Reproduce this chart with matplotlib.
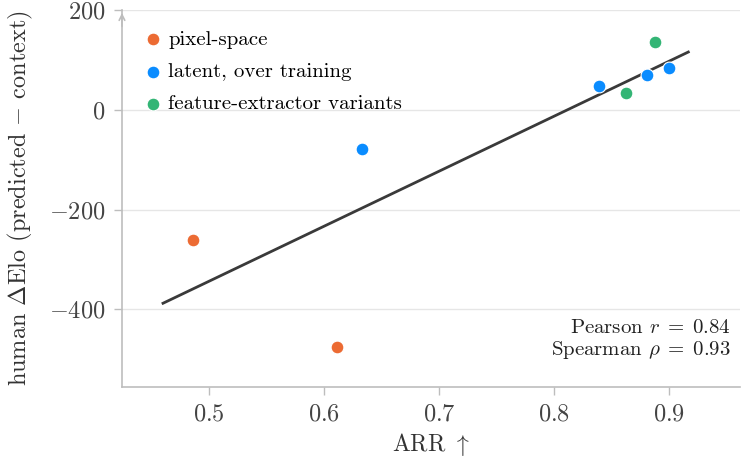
import matplotlib
matplotlib.use("Agg")
import matplotlib.pyplot as plt
import numpy as np

plt.rcParams["font.family"] = ["cmr10", "DejaVu Serif"]
plt.rcParams["mathtext.fontset"] = "cm"
plt.rcParams["axes.formatter.use_mathtext"] = True
plt.rcParams["axes.unicode_minus"] = True

# ── data ──────────────────────────────────────────────
pixel_x = [0.486, 0.611]
pixel_y = [-262, -476]

latent_x = [0.633, 0.839, 0.881, 0.900]
latent_y = [-78, 48, 70, 84]

feat_x = [0.863, 0.888]
feat_y = [34, 136]

fit_x = [0.460, 0.917]
fit_y = [-388, 116]

pearson_r = 0.84
spearman_rho = 0.93

ORANGE = "#ec6b33"
BLUE = "#0a8cff"
GREEN = "#33b575"
SPINE = "#bdbdbd"
TXT = "#333333"

fig = plt.figure(figsize=(7.46, 4.61), dpi=100)
ax = fig.add_axes([0.1635, 0.1605, 0.8285, 0.8175])

ax.plot(fit_x, fit_y, color="#3a3a3a", lw=2.0, zorder=2)
ms = 85
ax.scatter(pixel_x, pixel_y, s=ms, color=ORANGE, edgecolor="white", lw=0.8,
           zorder=3, label="pixel-space")
ax.scatter(latent_x, latent_y, s=ms, color=BLUE, edgecolor="white", lw=0.8,
           zorder=3, label="latent, over training")
ax.scatter(feat_x, feat_y, s=ms, color=GREEN, edgecolor="white", lw=0.8,
           zorder=3, label="feature-extractor variants")

ax.set_xlim(0.4243, 0.962)
ax.set_ylim(-556, 200)
ax.set_xticks([0.5, 0.6, 0.7, 0.8, 0.9])
ax.set_yticks([-400, -200, 0, 200])
ax.grid(axis="y", color="#e6e6e6", lw=1.0, zorder=0)
ax.set_axisbelow(True)

for s in ["top", "right"]:
    ax.spines[s].set_visible(False)
for s in ["left", "bottom"]:
    ax.spines[s].set_color(SPINE)
    ax.spines[s].set_linewidth(1.2)
ax.tick_params(colors=SPINE, labelcolor="#444444", labelsize=17.5, length=6, width=1.0,
               pad=6)

ax.annotate("", xy=(0, 1.0), xytext=(0, 0.95), xycoords="axes fraction",
            arrowprops=dict(arrowstyle="->", color=SPINE, lw=1.2))

ax.set_xlabel(r"ARR $\uparrow$", fontsize=17, color=TXT, labelpad=4)
ax.set_ylabel(r"human $\Delta$Elo (predicted $-$ context)", fontsize=17.5, color=TXT,
              labelpad=10)

ax.text(0.985, 0.07,
        "Pearson $r\\;=\\;%.2f$\nSpearman $\\rho\\;=\\;%.2f$" % (pearson_r, spearman_rho),
        transform=ax.transAxes, ha="right", va="bottom", fontsize=15, color="#222222",
        linespacing=1.1)

ax.legend(loc="upper left", frameon=False, fontsize=15, handlelength=1.0,
          handletextpad=0.25, markerscale=1.0, labelspacing=0.65, borderaxespad=0.3,
          bbox_to_anchor=(0.009, 0.985))

fig.savefig("out.png", dpi=100)
